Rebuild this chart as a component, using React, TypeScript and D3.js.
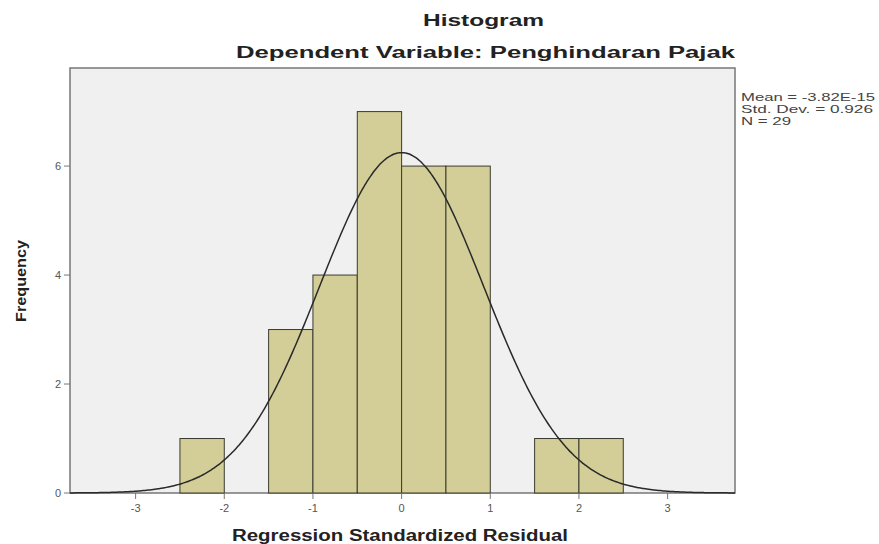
import * as d3 from "d3";

// bins of 0.5 width: [lower edge, count]
const binStarts = [-2.5, -1.5, -1.0, -0.5, 0.0, 0.5, 1.5, 2.0];
const binCounts = [1, 3, 4, 7, 6, 6, 1, 1];
const binWidth = 0.5;
const xTicks = [-3, -2, -1, 0, 1, 2, 3];
const yTicks = [0, 2, 4, 6];
const statLines = ["Mean = -3.82E-15", "Std. Dev. = 0.926", "N = 29"];
const statWidths = [134, 132, 50];
const meanVal = 0;
const sdVal = 0.926;
const nVal = 29;

const W = 879;
const H = 544;
const M = { left: 70, right: 144, top: 68, bottom: 51 };
const font = "'Liberation Sans', Arial, sans-serif";

export default function App() {
  const x = d3.scaleLinear().domain([-3.74, 3.76]).range([M.left, W - M.right]);
  const y = d3.scaleLinear().domain([0, 7.8]).range([H - M.bottom, M.top]);

  const curvePts = d3.range(0, 401).map((i) => {
    const v = -3.74 + (7.5 * i) / 400;
    const dens = Math.exp(-0.5 * ((v - meanVal) / sdVal) ** 2) / (sdVal * Math.sqrt(2 * Math.PI));
    return [v, dens * nVal * binWidth] as [number, number];
  });
  const line = d3
    .line<[number, number]>()
    .x((d) => x(d[0]))
    .y((d) => y(d[1]))
    .curve(d3.curveBasis);

  const x0 = M.left;
  const x1 = W - M.right;
  const y0 = H - M.bottom;
  const y1 = M.top;

  return (
    <svg width={W} height={H} style={{ position: "absolute", left: 0, top: 0, background: "#fff" }} fontFamily={font}>
      <text x={423} y={26} fontSize={16} fontWeight="bold" fill="#222" textLength={121} lengthAdjust="spacingAndGlyphs">
        Histogram
      </text>
      <text x={236} y={58} fontSize={16} fontWeight="bold" fill="#222" textLength={499} lengthAdjust="spacingAndGlyphs">
        Dependent Variable: Penghindaran Pajak
      </text>

      <rect x={x0} y={y1} width={x1 - x0} height={y0 - y1} fill="#f0f0f0" stroke="#777" strokeWidth={1.5} />

      {binStarts.map((b, i) => (
        <rect
          key={i}
          x={x(b)}
          y={y(binCounts[i])}
          width={x(b + binWidth) - x(b)}
          height={y(0) - y(binCounts[i])}
          fill="#d3ce97"
          stroke="#3a3a30"
          strokeWidth={1}
        />
      ))}

      <path d={line(curvePts) ?? ""} fill="none" stroke="#2a2a2a" strokeWidth={1.5} />

      {yTicks.map((t) => (
        <g key={t}>
          <line x1={x0 - 6} x2={x0} y1={y(t)} y2={y(t)} stroke="#777" strokeWidth={1} />
          <text x={x0 - 9} y={y(t) + 4} textAnchor="end" fontSize={11} fill="#555">
            {t}
          </text>
        </g>
      ))}
      {xTicks.map((t) => (
        <g key={t}>
          <line x1={x(t)} x2={x(t)} y1={y0} y2={y0 + 6} stroke="#777" strokeWidth={1} />
          <text x={x(t)} y={y0 + 19} textAnchor="middle" fontSize={11} fill="#555">
            {t}
          </text>
        </g>
      ))}

      <text
        transform={`translate(26, ${281}) rotate(-90)`}
        x={-41}
        fontSize={14}
        fontWeight="bold"
        fill="#222"
        textLength={82}
        lengthAdjust="spacingAndGlyphs"
      >
        Frequency
      </text>
      <text x={232} y={541} fontSize={16} fontWeight="bold" fill="#222" textLength={336} lengthAdjust="spacingAndGlyphs">
        Regression Standardized Residual
      </text>

      {statLines.map((s, i) => (
        <text
          key={i}
          x={741}
          y={101 + i * 12}
          fontSize={11}
          fill="#444"
          textLength={statWidths[i]}
          lengthAdjust="spacingAndGlyphs"
        >
          {s}
        </text>
      ))}
    </svg>
  );
}
